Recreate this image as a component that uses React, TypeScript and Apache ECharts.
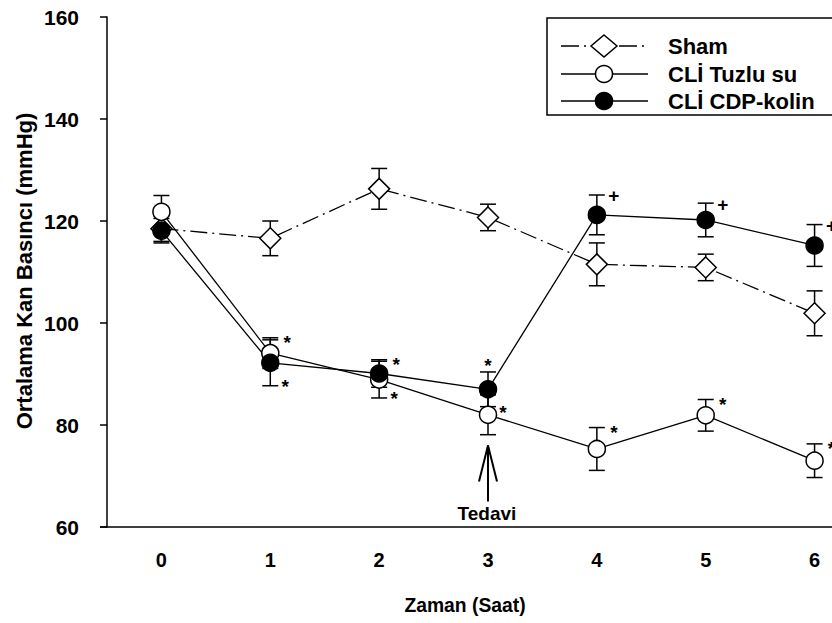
import React, { useEffect, useRef } from "react";
import * as echarts from "echarts";

// Hours after ischemia and mean arterial pressure (mmHg, mean ± SE)
const hours = ["0", "1", "2", "3", "4", "5", "6"];
const seriesNames = ["Sham", "CLİ Tuzlu su", "CLİ CDP-kolin"];

const shamMean = [118.5, 116.6, 126.3, 120.7, 111.5, 110.9, 101.9];
const shamSE = [2.5, 3.4, 4.0, 2.6, 4.2, 2.6, 4.4];

const salineMean = [121.8, 94.1, 88.9, 82.0, 75.3, 81.9, 73.0];
const salineSE = [3.2, 3.0, 3.6, 3.9, 4.2, 3.1, 3.3];

const cdpMean = [118.1, 92.2, 90.1, 87.0, 121.2, 120.2, 115.2];
const cdpSE = [2.4, 4.5, 2.7, 3.4, 3.9, 3.3, 4.1];

const yMin = 60;
const yMax = 160;
const yStep = 20;

// Significance marks: which group (index into seriesNames), which hour, symbol, placement
const sigGroup = [1, 2, 2, 1, 2, 1, 1, 2, 2, 1, 2, 1];
const sigHour = [1, 1, 2, 2, 3, 3, 4, 4, 5, 5, 6, 6];
const sigText = ["*", "*", "*", "*", "*", "*", "*", "+", "+", "*", "+", "*"];
const sigPlace = [
  "capTop", "capBottom", "capTop", "capBottom", "above", "side",
  "capTop", "capTop", "capTop", "capTop", "capTop", "capTop",
];

// Treatment start marker
const treatmentHour = 3;
const treatmentLabel = "Tedavi";
const arrowTip = 76;
const arrowTail = 65;

const FONT = "'Liberation Sans', Arial, Helvetica, sans-serif";
const INK = "#000";

// The plotting frame runs past the right edge of the visible area
const VIEW_W = 832;
const VIEW_H = 623;
const CANVAS_W = 900;

const GRID_LEFT = 107;
const GRID_TOP = 17;
const GRID_H = 510;

const means = [shamMean, salineMean, cdpMean];
const ses = [shamSE, salineSE, cdpSE];

function errorBarSeries(mean: number[], se: number[]) {
  return {
    type: "custom",
    z: 1,
    silent: true,
    clip: false,
    data: mean.map((m, i) => [i, m, se[i]]),
    encode: { x: 0, y: 1 },
    renderItem: (_params: any, api: any) => {
      const x = api.value(0);
      const m = api.value(1);
      const e = api.value(2);
      const top = api.coord([x, m + e]);
      const bot = api.coord([x, m - e]);
      const w = 8;
      const st = { stroke: INK, lineWidth: 1.5 };
      return {
        type: "group",
        children: [
          { type: "line", shape: { x1: top[0], y1: top[1], x2: bot[0], y2: bot[1] }, style: st },
          { type: "line", shape: { x1: top[0] - w, y1: top[1], x2: top[0] + w, y2: top[1] }, style: st },
          { type: "line", shape: { x1: bot[0] - w, y1: bot[1], x2: bot[0] + w, y2: bot[1] }, style: st },
        ],
      };
    },
  };
}

function legendGraphic() {
  const left = 547;
  const top = 18;
  const rows = [46, 74, 101];
  const sx0 = 561;
  const sx1 = 648;
  const mx = 604;
  const children: any[] = [
    {
      type: "rect",
      shape: { x: left, y: top, width: 340, height: 97 },
      style: { fill: "#fff", stroke: INK, lineWidth: 1.5 },
    },
  ];
  // Sham: dash-dot line with open diamond
  children.push(
    {
      type: "line",
      shape: { x1: sx0, y1: rows[0], x2: 591, y2: rows[0] },
      style: { stroke: INK, lineWidth: 1.3, lineDash: [18, 5, 2, 5] },
    },
    {
      type: "line",
      shape: { x1: 619, y1: rows[0], x2: 645, y2: rows[0] },
      style: { stroke: INK, lineWidth: 1.3, lineDash: [18, 5, 2, 5] },
    },
    {
      type: "polygon",
      shape: {
        points: [
          [mx, rows[0] - 11],
          [mx + 13, rows[0]],
          [mx, rows[0] + 11],
          [mx - 13, rows[0]],
        ],
      },
      style: { fill: "#fff", stroke: INK, lineWidth: 1.5 },
    }
  );
  // Saline and CDP-choline: solid line with circle
  [1, 2].forEach((k) => {
    children.push(
      {
        type: "line",
        shape: { x1: sx0, y1: rows[k], x2: sx1, y2: rows[k] },
        style: { stroke: INK, lineWidth: 1.3 },
      },
      {
        type: "circle",
        shape: { cx: mx, cy: rows[k], r: 8.5 },
        style: { fill: k === 1 ? "#fff" : INK, stroke: INK, lineWidth: 1.5 },
      }
    );
  });
  seriesNames.forEach((name, k) => {
    children.push({
      type: "text",
      x: 668,
      y: rows[k],
      style: {
        text: name,
        fill: INK,
        font: `bold 22px ${FONT}`,
        align: "left",
        verticalAlign: "middle",
      },
    });
  });
  return { type: "group", children };
}

export default function App() {
  const ref = useRef<HTMLDivElement>(null);

  useEffect(() => {
    if (!ref.current) return;
    const chart = echarts.init(ref.current, null, { renderer: "svg" });

    const lineCommon = {
      type: "line",
      z: 2,
      silent: true,
      clip: false,
    };

    const option: any = {
      animation: false,
      backgroundColor: "#fff",
      grid: { left: GRID_LEFT, top: GRID_TOP, width: 762, height: GRID_H, containLabel: false },
      xAxis: {
        type: "category",
        data: hours,
        boundaryGap: true,
        axisLine: { lineStyle: { color: INK, width: 1.5 } },
        axisTick: { alignWithLabel: true, length: 8, lineStyle: { color: INK, width: 1.5 } },
        axisLabel: {
          color: INK,
          fontSize: 20,
          fontWeight: "bold",
          fontFamily: FONT,
          margin: 23,
        },
        splitLine: { show: false },
      },
      yAxis: {
        type: "value",
        min: yMin,
        max: yMax,
        interval: yStep,
        axisLine: { show: true, lineStyle: { color: INK, width: 1.5 } },
        axisTick: { show: true, length: 7, lineStyle: { color: INK, width: 1.5 } },
        axisLabel: {
          color: INK,
          fontSize: 21,
          fontWeight: "bold",
          fontFamily: FONT,
          margin: 28,
        },
        splitLine: { show: false },
      },
      graphic: [
        // short overhang of the baseline to the left of the vertical axis
        {
          type: "line",
          shape: { x1: GRID_LEFT - 7, y1: GRID_TOP + GRID_H, x2: GRID_LEFT, y2: GRID_TOP + GRID_H },
          style: { stroke: INK, lineWidth: 1.5 },
        },
        legendGraphic(),
        {
          type: "text",
          x: 465,
          y: 605,
          scaleX: 0.92,
          style: {
            text: "Zaman (Saat)",
            fill: INK,
            font: `bold 21px ${FONT}`,
            align: "center",
            verticalAlign: "middle",
          },
        },
        {
          type: "text",
          x: 24,
          y: 271,
          rotation: Math.PI / 2,
          style: {
            text: "Ortalama Kan Basıncı (mmHg)",
            fill: INK,
            font: `bold 22px ${FONT}`,
            align: "center",
            verticalAlign: "middle",
          },
        },
      ],
      series: [
        errorBarSeries(shamMean, shamSE),
        errorBarSeries(salineMean, salineSE),
        errorBarSeries(cdpMean, cdpSE),
        {
          ...lineCommon,
          name: seriesNames[0],
          data: shamMean,
          symbol: "diamond",
          symbolSize: [21, 21],
          itemStyle: { color: "#fff", borderColor: INK, borderWidth: 1.5 },
          lineStyle: { color: INK, width: 1.3, type: [17, 5, 2, 5] },
        },
        {
          ...lineCommon,
          name: seriesNames[1],
          data: salineMean,
          symbol: "circle",
          symbolSize: 17,
          itemStyle: { color: "#fff", borderColor: INK, borderWidth: 1.5 },
          lineStyle: { color: INK, width: 1.3 },
        },
        {
          ...lineCommon,
          name: seriesNames[2],
          data: cdpMean,
          symbol: "circle",
          symbolSize: 17,
          itemStyle: { color: INK, borderColor: INK, borderWidth: 1.5 },
          lineStyle: { color: INK, width: 1.3 },
        },
        // significance symbols beside the error bars
        {
          type: "custom",
          z: 4,
          silent: true,
          clip: false,
          data: sigHour.map((h, k) => [h, means[sigGroup[k]][h], ses[sigGroup[k]][h]]),
          encode: { x: 0, y: 1 },
          renderItem: (params: any, api: any) => {
            const k = params.dataIndex;
            const x = api.value(0);
            const m = api.value(1);
            const e = api.value(2);
            const place = sigPlace[k];
            const txt = sigText[k];
            let p: number[];
            let dx = 17;
            let dy = 0;
            if (place === "capTop") {
              p = api.coord([x, m + e]);
              dy = 1;
            } else if (place === "capBottom") {
              p = api.coord([x, m - e]);
              dx = 15;
              dy = -3;
            } else if (place === "above") {
              p = api.coord([x, m + e]);
              dx = 0;
              dy = -10;
            } else {
              p = api.coord([x, m]);
              dx = 15;
              dy = -6;
            }
            // the asterisk glyph sits high in its em box
            const glyphShift = txt === "*" ? 4 : 0;
            return {
              type: "text",
              x: p[0] + dx,
              y: p[1] + dy + glyphShift,
              style: {
                text: txt,
                fill: INK,
                font: `bold 19px ${FONT}`,
                align: "center",
                verticalAlign: "middle",
              },
            };
          },
        },
        // treatment arrow
        {
          type: "custom",
          z: 4,
          silent: true,
          clip: false,
          data: [[treatmentHour, arrowTip, arrowTail]],
          encode: { x: 0, y: 1 },
          renderItem: (_params: any, api: any) => {
            const x = api.value(0);
            const tip = api.coord([x, api.value(1)]);
            const tail = api.coord([x, api.value(2)]);
            const st = { stroke: INK, lineWidth: 2, fill: "none" };
            return {
              type: "group",
              children: [
                { type: "line", shape: { x1: tip[0], y1: tip[1], x2: tail[0], y2: tail[1] }, style: st },
                {
                  type: "polyline",
                  shape: {
                    points: [
                      [tip[0] - 9, tip[1] + 36],
                      [tip[0], tip[1]],
                      [tip[0] + 9, tip[1] + 36],
                    ],
                  },
                  style: st,
                },
                {
                  type: "text",
                  x: tail[0] - 1,
                  y: tail[1] + 12,
                  style: {
                    text: treatmentLabel,
                    fill: INK,
                    font: `bold 19px ${FONT}`,
                    align: "center",
                    verticalAlign: "middle",
                  },
                },
              ],
            };
          },
        },
      ],
    };

    chart.setOption(option);
    return () => chart.dispose();
  }, []);

  return (
    <div
      style={{
        position: "fixed",
        left: 0,
        top: 0,
        width: VIEW_W,
        height: VIEW_H,
        overflow: "hidden",
        background: "#fff",
      }}
    >
      <div ref={ref} style={{ width: CANVAS_W, height: VIEW_H }} />
    </div>
  );
}
